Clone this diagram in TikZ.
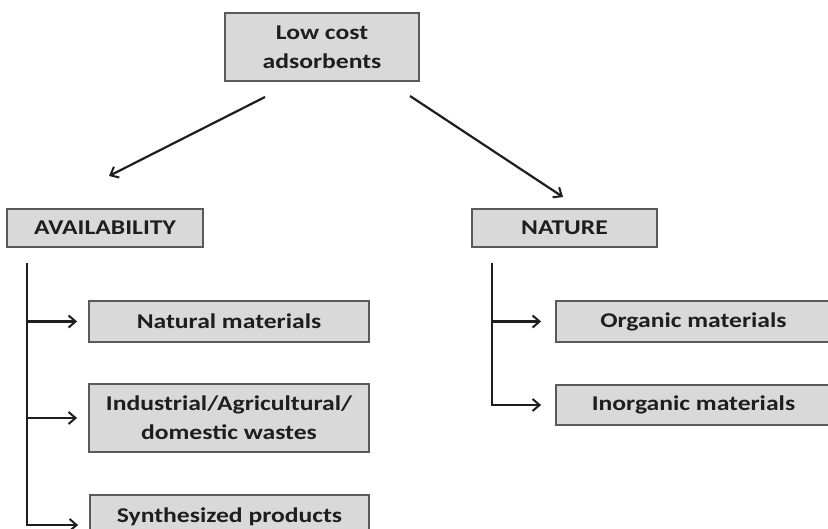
\documentclass[tikz,border=0pt]{standalone}
\usepackage{fontspec}
\setmainfont{Carlito}
\newfontfamily\boxfont{Carlito}[FakeStretch=1.22]
\usetikzlibrary{arrows.meta}
\definecolor{boxfill}{HTML}{D9D9D9}
\definecolor{boxline}{HTML}{5A5A5A}
\definecolor{ink}{HTML}{1E1E1E}
\tikzset{
  box/.style={draw=boxline, line width=1.8pt, fill=boxfill, inner sep=0pt,
    align=center, text=ink, font=\boxfont\fontsize{21}{29}\selectfont\bfseries},
  conn/.style={draw=ink, line width=2.2pt},
  arr/.style={conn, -{Straight Barb[length=7pt,width=12pt,line width=2pt]}},
}
\begin{document}
\begin{tikzpicture}[x=1pt,y=-1pt]
\useasboundingbox (0,0) rectangle (828,529);
\clip (0,0) rectangle (828,529);
\fill[white] (0,0) rectangle (828,529);
% nodes
\node[box, minimum width=194pt, minimum height=68pt] (top) at (322,47) {Low cost\\adsorbents};
\node[box, minimum width=196pt, minimum height=38pt] (avail) at (105,228) {AVAILABILITY};
\node[box, minimum width=185pt, minimum height=38pt] (nature) at (564.5,228) {NATURE};
\node[box, minimum width=280pt, minimum height=41pt] (natural) at (229,321.5) {Natural materials};
\node[box, minimum width=280pt, minimum height=68pt] (indus) at (229,418) {Industrial/Agricultural/\\domestic wastes};
\node[box, minimum width=279pt, minimum height=44pt] (synth) at (229.5,517) {Synthesized products};
\node[box, minimum width=275pt, minimum height=41pt] (organic) at (693.5,321.5) {Organic materials};
\node[box, minimum width=275pt, minimum height=40pt] (inorganic) at (693.5,405) {Inorganic materials};
% top arrows
\coordinate (l1) at (265,97);
\coordinate (l2) at (109,176);
\coordinate (r1) at (410,96);
\coordinate (r2) at (563,197);
\draw[arr] (l1) -- (l2);
\draw[arr] (r1) -- (r2);
% availability branch
\coordinate (at) at (27,263);
\coordinate (sb) at ([yshift=-8pt]synth.west);
\draw[arr] (at) |- ([xshift=-11pt]sb);
\draw[arr] (at |- natural.west) -- ([xshift=-11pt]natural.west);
\draw[arr] (at |- indus.west) -- ([xshift=-11pt]indus.west);
% nature branch
\coordinate (nt) at (492,263);
\draw[arr] (nt) |- ([xshift=-14pt]inorganic.west);
\draw[arr] (nt |- organic.west) -- ([xshift=-14pt]organic.west);
\end{tikzpicture}
\end{document}
